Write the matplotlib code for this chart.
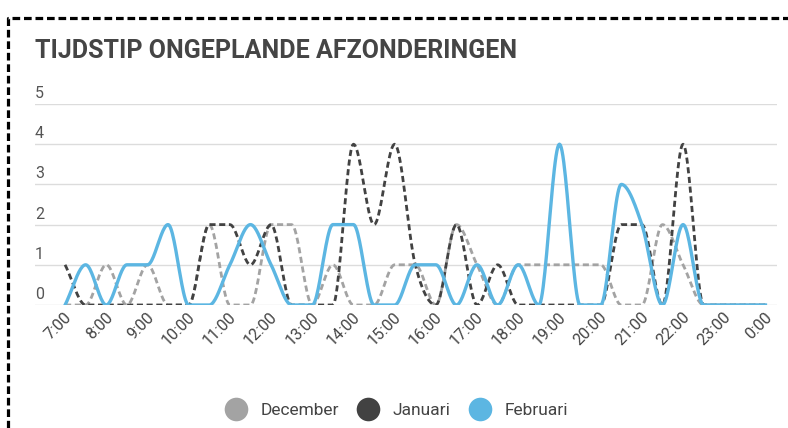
import numpy as np
import matplotlib
matplotlib.use("Agg")
import matplotlib.pyplot as plt
import matplotlib.transforms as mtransforms
from matplotlib.lines import Line2D

plt.rcParams["font.family"] = ["Roboto", "DejaVu Sans"]

# half-hour slots from 7:00 to 0:00
hour_labels = ["7:00", "8:00", "9:00", "10:00", "11:00", "12:00", "13:00", "14:00",
               "15:00", "16:00", "17:00", "18:00", "19:00", "20:00", "21:00",
               "22:00", "23:00", "0:00"]
december = [0, 0, 1, 0, 1, 0, 0, 2, 0, 0, 2, 2, 0, 1, 0, 0, 1, 1,
            0, 2, 1, 0, 1, 1, 1, 1, 1, 0, 0, 2, 1, 0, 0, 0, 0]
januari = [1, 0, 0, 0, 0, 0, 0, 2, 2, 1, 2, 0, 0, 0, 4, 2, 4, 1,
           0, 2, 0, 1, 0, 0, 0, 0, 0, 2, 2, 0, 4, 0, 0, 0, 0]
februari = [0, 1, 0, 1, 1, 2, 0, 0, 1, 2, 1, 0, 0, 2, 2, 0, 0, 1,
            1, 0, 1, 0, 1, 0, 4, 0, 0, 3, 2, 0, 2, 0, 0, 0, 0]

series = [("December", december, "#a3a3a3", "--"),
          ("Januari", januari, "#424242", "--"),
          ("Februari", februari, "#5cb6e2", "-")]


def monotone(y, steps=24):
    # monotone cubic interpolation (Fritsch-Carlson)
    y = np.asarray(y, float)
    n = len(y)
    d = np.diff(y)
    m = np.zeros(n)
    m[0], m[-1] = d[0], d[-1]
    for k in range(1, n - 1):
        if d[k - 1] * d[k] > 0:
            m[k] = (d[k - 1] + d[k]) / 2
    for k in range(n - 1):
        if d[k] == 0:
            m[k] = m[k + 1] = 0
            continue
        a, b = m[k] / d[k], m[k + 1] / d[k]
        s = a * a + b * b
        if s > 9:
            t = 3 / np.sqrt(s)
            m[k], m[k + 1] = t * a * d[k], t * b * d[k]
    xs, ys = [], []
    t = np.linspace(0, 1, steps, endpoint=False)
    for k in range(n - 1):
        h00 = 2 * t**3 - 3 * t**2 + 1
        h10 = t**3 - 2 * t**2 + t
        h01 = -2 * t**3 + 3 * t**2
        h11 = t**3 - t**2
        xs.append(k + t)
        ys.append(h00 * y[k] + h10 * m[k] + h01 * y[k + 1] + h11 * m[k + 1])
    xs.append([n - 1])
    ys.append([y[-1]])
    return np.concatenate(xs), np.concatenate(ys)


fig = plt.figure(figsize=(7.88, 4.28), dpi=100)
ax = fig.add_axes([35 / 788, 123 / 428, 742 / 788, 201 / 428])

for name, vals, col, ls in series:
    xs, ys = monotone(vals)
    if ls == "--":
        ax.plot(xs, ys, color=col, lw=2.0, dashes=(2.2, 1.3), label=name)
    else:
        ax.plot(xs, ys, color=col, lw=2.4, label=name)

ax.set_xlim(-1.46, 34.56)
ax.set_ylim(0, 5)
for s in ax.spines.values():
    s.set_visible(False)
ax.set_xticks([])
ax.set_yticks([])
for v in range(6):
    ax.axhline(v, color="#dcdcdc", lw=1, zorder=0)
    off = mtransforms.offset_copy(mtransforms.blended_transform_factory(ax.transAxes, ax.transData),
                                  fig=fig, x=0, y=3, units="dots")
    ax.text(0, v, str(v), transform=off, ha="left", va="bottom",
            fontsize=11.5, color="#555555")

for i, lab in enumerate(hour_labels):
    off = mtransforms.offset_copy(ax.transData, fig=fig, x=4, y=-10, units="dots")
    ax.text(2 * i, 0, lab, transform=off, rotation=45, rotation_mode="anchor",
            ha="right", va="center", fontsize=11.5, color="#444444")

fig.text(35 / 788, 1 - 51 / 428, "TIJDSTIP ONGEPLANDE AFZONDERINGEN", ha="left", va="center",
         fontsize=18, fontweight="bold", color="#454545")

handles = [Line2D([], [], marker="o", ls="", markersize=17, color=c, markeredgewidth=0)
           for _, _, c, _ in series]
fig.legend(handles, [s[0] for s in series], loc="center", bbox_to_anchor=(396 / 788, 1 - 410 / 428),
           ncol=3, frameon=False, fontsize=12.5, handletextpad=0.75, columnspacing=1.0,
           handlelength=1.35, labelcolor="#444444")

# dashed card border
fig.add_artist(Line2D([8 / 788, 8 / 788, 1.0], [0.0, 1 - 18 / 428, 1 - 18 / 428],
                      transform=fig.transFigure, color="black", lw=2.3, dashes=(2.4, 1.2)))

fig.savefig("out.png", dpi=100)
